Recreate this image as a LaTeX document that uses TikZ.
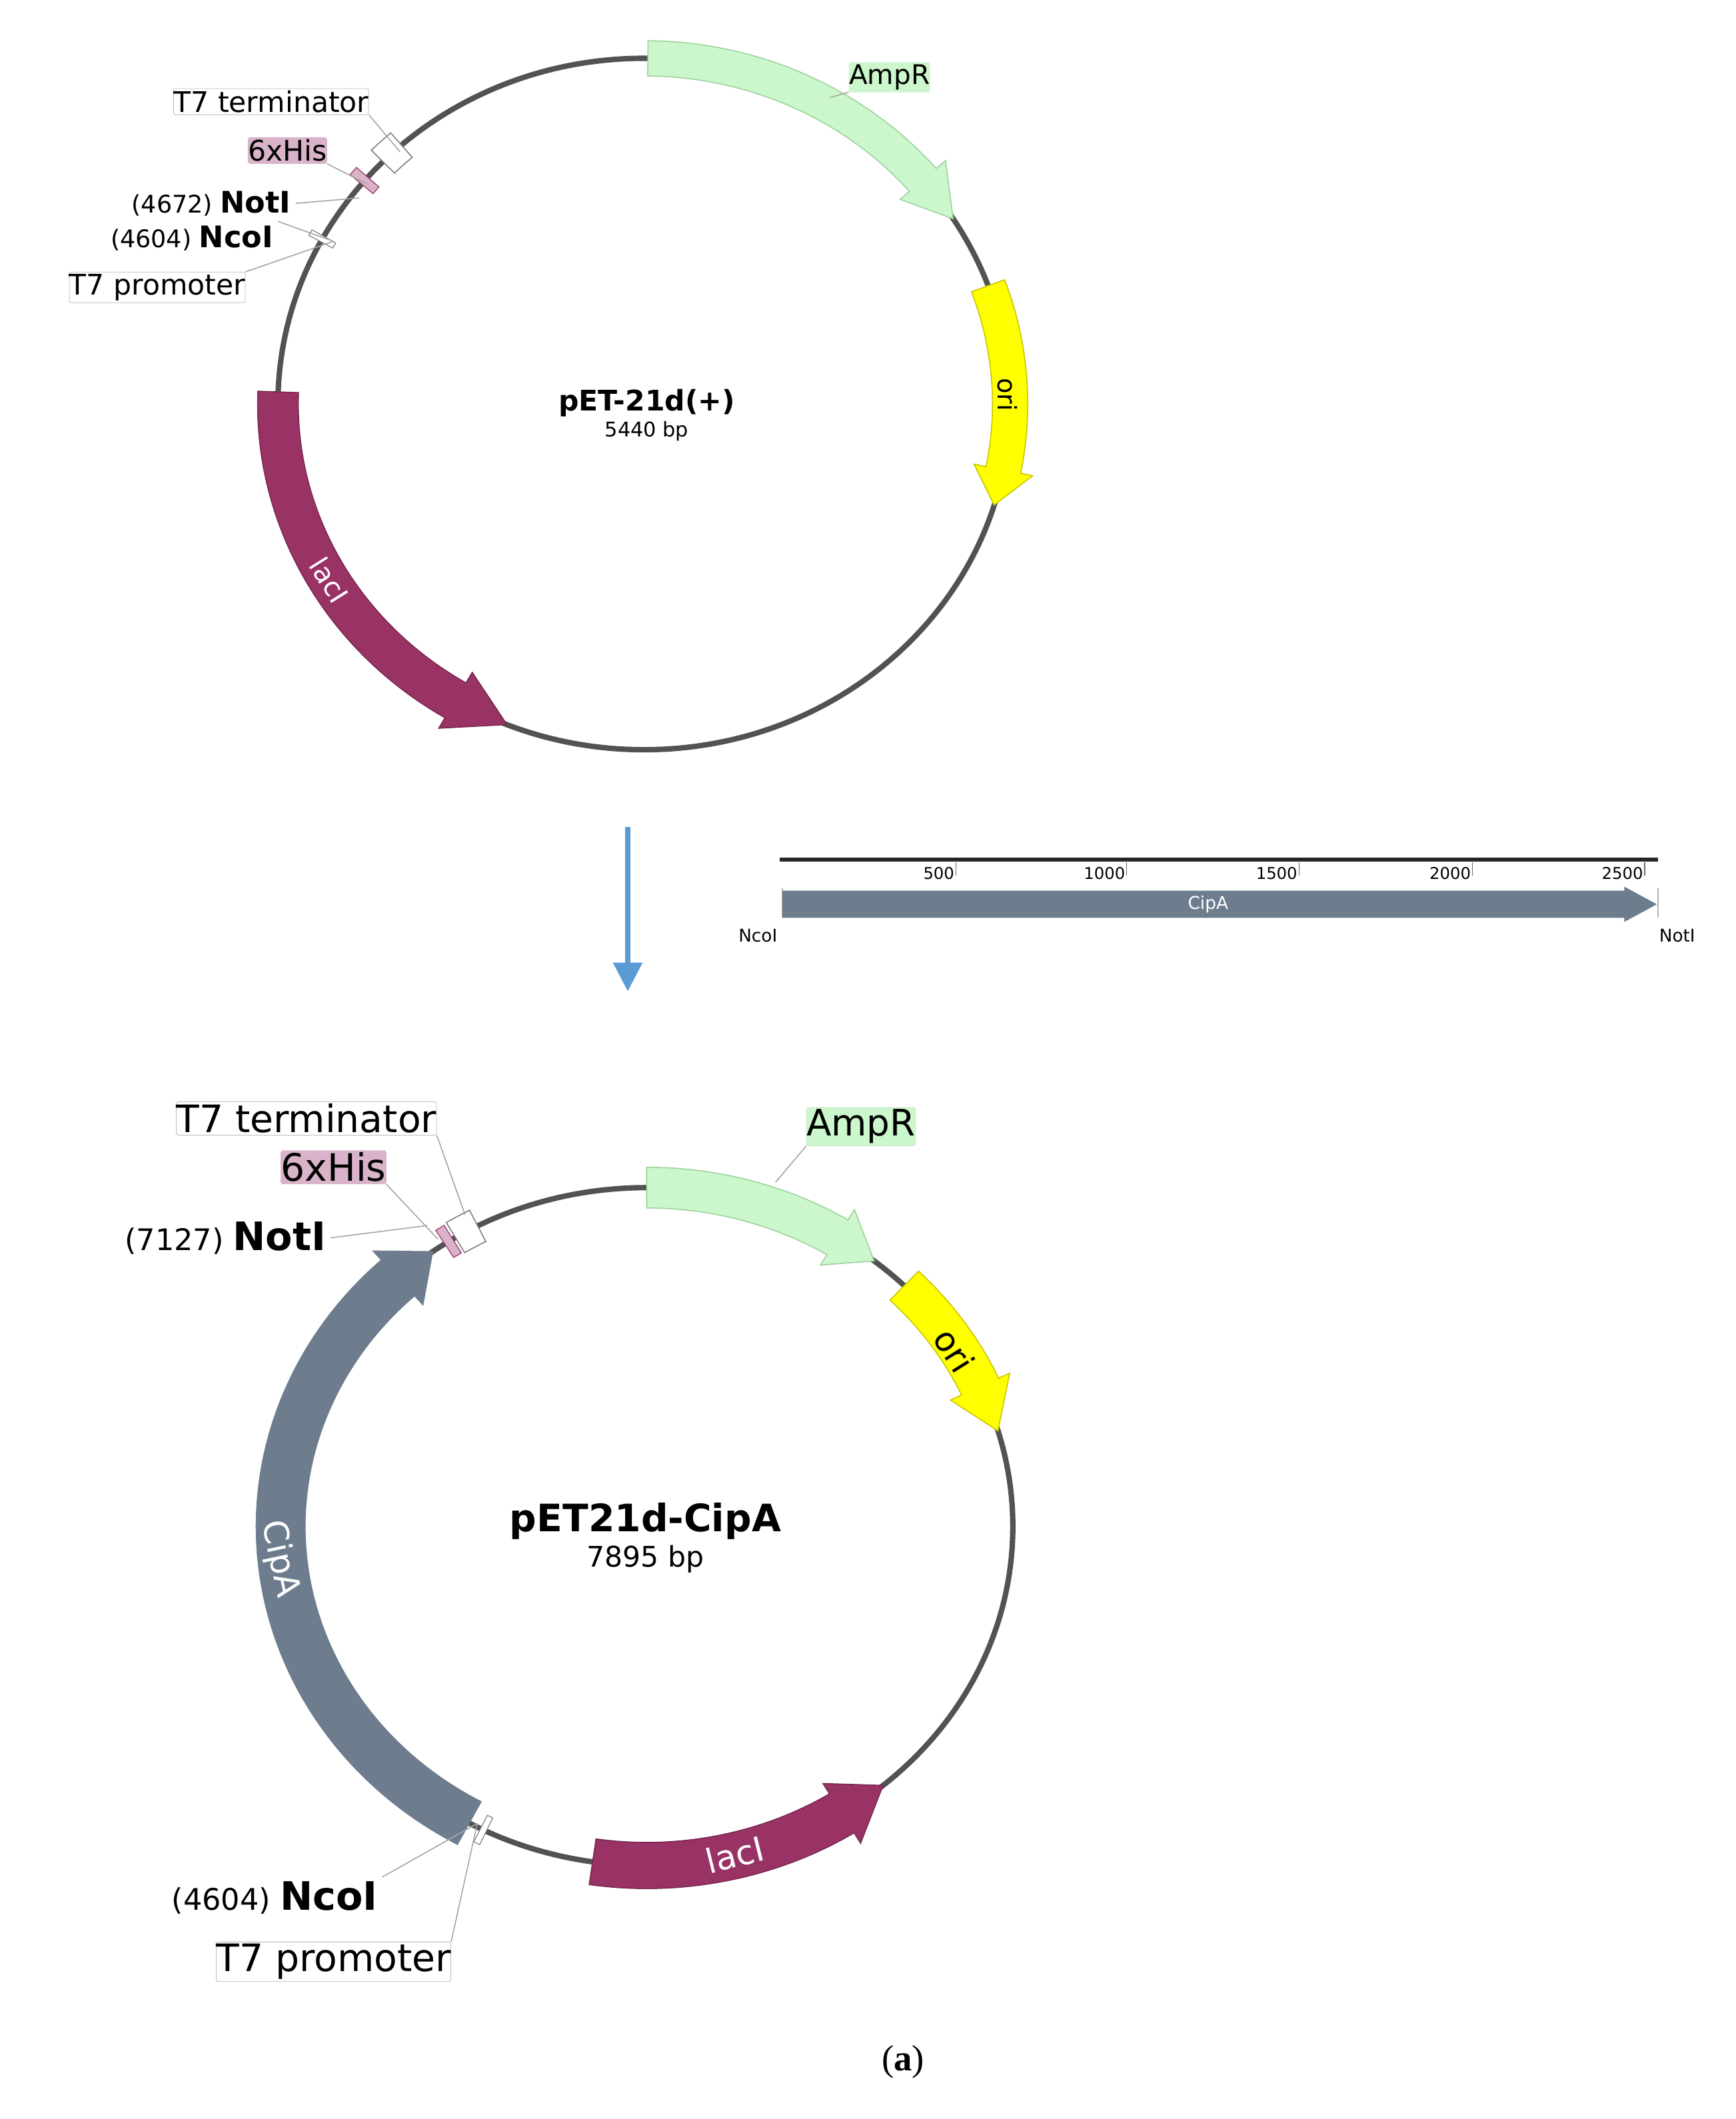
\documentclass[tikz,border=0pt]{standalone}
\usepackage{fontspec}
\setmainfont{DejaVu Sans}
\newfontfamily\capfont{Liberation Serif}
\definecolor{ampf}{HTML}{CCF7CC}\definecolor{ampd}{HTML}{9CD49C}
\definecolor{orif}{HTML}{FFFF00}\definecolor{orid}{HTML}{C8C800}
\definecolor{lacf}{HTML}{993366}\definecolor{cipf}{HTML}{6E7D8E}
\definecolor{hisf}{HTML}{D9B3C9}\definecolor{bblue}{HTML}{5B9BD5}
% cx cy rx ry a1 a2 w h style
\newcommand\feat[9]{%
 \pgfmathsetmacro\rox{#3+#7/2}\pgfmathsetmacro\roy{#4+#7/2}%
 \pgfmathsetmacro\rix{#3-#7/2}\pgfmathsetmacro\riy{#4-#7/2}%
 \pgfmathsetmacro\rex{#3+#7/2+9}\pgfmathsetmacro\rey{#4+#7/2+9}%
 \pgfmathsetmacro\riex{#3-#7/2-9}\pgfmathsetmacro\riey{#4-#7/2-9}%
 \pgfmathsetmacro\ab{#6-#8}%
 \filldraw[#9] ([shift={(#1,#2)}]#5:\rox\space and \roy) arc[start angle=#5,end angle=\ab,x radius=\rox,y radius=\roy] -- ([shift={(#1,#2)}]\ab:\rex\space and \rey) -- ([shift={(#1,#2)}]#6:#3 and #4) -- ([shift={(#1,#2)}]\ab:\riex\space and \riey) -- ([shift={(#1,#2)}]\ab:\rix\space and \riy) arc[start angle=\ab,end angle=#5,x radius=\rix,y radius=\riy] -- cycle;}
\newcommand\blk[8]{%
 \pgfmathsetmacro\rox{#3+#7/2}\pgfmathsetmacro\roy{#4+#7/2}%
 \pgfmathsetmacro\rix{#3-#7/2}\pgfmathsetmacro\riy{#4-#7/2}%
 \filldraw[#8] ([shift={(#1,#2)}]#5:\rox\space and \roy) arc[start angle=#5,end angle=#6,x radius=\rox,y radius=\roy] -- ([shift={(#1,#2)}]#6:\rix\space and \riy) arc[start angle=#6,end angle=#5,x radius=\rix,y radius=\riy] -- cycle;}
\tikzset{
 bb/.style={draw=gray!55,fill=white,rounded corners=1.5,inner xsep=0pt,inner ysep=1.5pt,anchor=center},
 lead/.style={draw=gray!70,line width=0.8},
 bline/.style={draw=black!68,line width=4},
}
\begin{document}
\begin{tikzpicture}[x=1bp,y=-1bp]
\useasboundingbox[fill=white] (0,0) rectangle (1280,1563);
% ===== top plasmid
\draw[bline] (475,298) ellipse[x radius=270,y radius=255];
\feat{475}{298}{270}{255}{-89.4}{-32.4}{26}{8}{fill=ampf,draw=ampd,line width=0.8}
\feat{475}{298}{270}{255}{-20}{17}{26}{6}{fill=orif,draw=orid,line width=0.8}
\feat{475}{298}{270}{255}{182}{112}{30}{-9}{fill=lacf,draw=lacf!80!black,line width=0.8}
\blk{475}{298}{270}{255}{224.5}{228.5}{24}{fill=white,draw=gray,line width=0.8}
\blk{475}{298}{270}{255}{219.5}{221}{22}{fill=hisf,draw=lacf,line width=0.6}
\blk{475}{298}{270}{255}{208}{209}{20}{fill=white,draw=gray,line width=0.6}
\node[font=\bfseries\fontsize{21}{21}\selectfont] (n1) at (477,297) {pET-21d(+)};
\node[font=\fontsize{15}{15}\selectfont] (s1) at (477,318) {5440 bp};
\node[bb,fill=ampf,draw=ampf,font=\fontsize{20}{20}\selectfont] (amp1) at (656,57) {AmpR};
\node[rotate=-90,font=\fontsize{19}{19}\selectfont] (ori1) at (743,291) {ori};
\node[rotate=-58,text=white,font=\fontsize{20}{20}\selectfont] (lac1) at (243,428) {lacI};
\node[bb,font=\fontsize{21}{21}\selectfont] (tt1) at (200,75) {T7 terminator};
\node[bb,fill=hisf,draw=hisf,font=\fontsize{21}{21}\selectfont] (his1) at (212,111) {6xHis};
\node[anchor=east,font=\fontsize{18}{18}\selectfont] (not1) at (218,150) {(4672) \textbf{\fontsize{22}{22}\selectfont NotI}};
\node[anchor=east,font=\fontsize{18}{18}\selectfont] (nco1) at (205,176) {(4604) \textbf{\fontsize{22}{22}\selectfont NcoI}};
\node[bb,font=\fontsize{21}{21}\selectfont] (tp1) at (116,212) {T7 promoter};
\coordinate (a1) at (295,112); \coordinate (b1) at (271,136);
\coordinate (c1) at (265,146); \coordinate (d1) at (246,178);
\draw[lead] (tt1.south east) -- (a1);
\draw[lead] (his1.south east) -- (b1);
\draw[lead] (not1.east) -- (c1);
\draw[lead] (nco1.north east) -- (d1);
\draw[lead] (tp1.north east) -- (d1);
\draw[lead] (amp1.south west) -- (612,72);
% ===== arrow
\draw[bblue,line width=4] (463,610) -- (463,712);
\fill[bblue] (452,710) -- (474,710) -- (463,731) -- cycle;
% ===== linear map
\draw[black!85,line width=3] (575,634) -- (1223,634);
\foreach \xx/\lab in {705/500,831/1000,958/1500,1086/2000,1213/2500}{
 \draw[black!60,line width=0.6] (\xx,636) -- (\xx,646);
 \node[anchor=east,inner sep=1pt,font=\fontsize{12}{12}\selectfont] at (\xx,644) {\lab};}
\draw[gray!60,line width=0.8] (577,655) -- (577,677);
\draw[gray!60,line width=0.8] (1223,655) -- (1223,677);
\fill[cipf] (577,657) -- (1198,657) -- (1198,654) -- (1222,667) -- (1198,680) -- (1198,677) -- (577,677) -- cycle;
\node[text=white,font=\fontsize{13}{13}\selectfont] (cipl) at (891,667) {CipA};
\node[font=\fontsize{13}{13}\selectfont] (ncl) at (559,690) {NcoI};
\node[font=\fontsize{13}{13}\selectfont] (ntl) at (1237,690) {NotI};
% ===== bottom plasmid
\draw[bline] (477,1126) ellipse[x radius=270,y radius=250];
\feat{477}{1126}{270}{250}{-90}{-51.6}{30}{7}{fill=ampf,draw=ampd,line width=0.8}
\feat{477}{1126}{270}{250}{-45.3}{-16.4}{30}{8}{fill=orif,draw=orid,line width=0.8}
\feat{477}{1126}{270}{250}{98.5}{49.8}{34}{-8}{fill=lacf,draw=lacf!80!black,line width=0.8}
\feat{477}{1126}{270}{250}{119}{234.2}{36}{7}{fill=cipf,draw=cipf,line width=0.8}
\blk{477}{1126}{270}{250}{238.5}{242.5}{26}{fill=white,draw=gray,line width=0.8}
\blk{477}{1126}{270}{250}{236.5}{238}{24}{fill=hisf,draw=lacf,line width=0.6}
\blk{477}{1126}{270}{250}{116}{117}{22}{fill=white,draw=gray,line width=0.6}
\node[font=\bfseries\fontsize{28}{28}\selectfont] (n2) at (476,1122) {pET21d-CipA};
\node[font=\fontsize{21}{21}\selectfont] (s2) at (476,1150) {7895 bp};
\node[bb,fill=ampf,draw=ampd!60,font=\fontsize{27}{27}\selectfont] (amp2) at (635,831) {AmpR};
\node[rotate=-58,font=\fontsize{25}{25}\selectfont] (ori2) at (704,996) {ori};
\node[rotate=-78,text=white,font=\fontsize{25}{25}\selectfont] (cip2) at (206,1150) {CipA};
\node[rotate=14,text=white,font=\fontsize{25}{25}\selectfont] (lac2) at (542,1368) {lacI};
\node[bb,font=\fontsize{28}{28}\selectfont] (tt2) at (226,825) {T7 terminator};
\node[bb,fill=hisf,draw=hisf,font=\fontsize{28}{28}\selectfont] (his2) at (246,861) {6xHis};
\node[anchor=east,font=\fontsize{22}{22}\selectfont] (not2) at (244,913) {(7127) \textbf{\fontsize{29}{29}\selectfont NotI}};
\node[anchor=east,font=\fontsize{22}{22}\selectfont] (nco2) at (282,1400) {(4604) \textbf{\fontsize{29}{29}\selectfont NcoI}};
\node[bb,font=\fontsize{28}{28}\selectfont] (tp2) at (246,1447) {T7 promoter};
\coordinate (a2) at (343,896); \coordinate (b2) at (323,914);
\coordinate (c2) at (315,904); \coordinate (d2) at (352,1345);
\draw[lead] (tt2.south east) -- (a2);
\draw[lead] (his2.south east) -- (b2);
\draw[lead] (not2.east) -- (c2);
\draw[lead] (nco2.north east) -- (d2);
\draw[lead] (tp2.north east) -- (d2);
\draw[lead] (amp2.south west) -- (572,872);
% caption
\node[font=\capfont\fontsize{27}{27}\selectfont] (cap) at (666,1521) {(\textbf{a})};
\end{tikzpicture}
\end{document}
